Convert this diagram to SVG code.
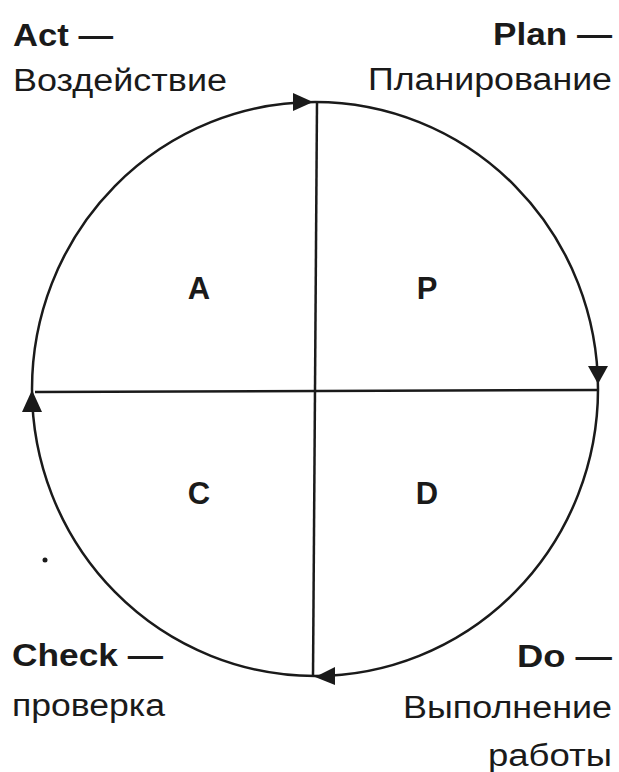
<svg xmlns="http://www.w3.org/2000/svg" width="619" height="772" viewBox="0 0 619 772">
<style>
.lbl{font-family:"Liberation Sans",Arial,sans-serif;font-size:31px;fill:#1a1a1a}
.b{font-weight:bold}
.q{font-family:"Liberation Sans",Arial,sans-serif;font-size:31px;font-weight:bold;fill:#1a1a1a;text-anchor:middle}
.ln{stroke:#1a1a1a;stroke-width:2.5;fill:none}
</style>
<rect width="619" height="772" fill="#fff"/>
<g id="connectors">
<ellipse class="ln" cx="315" cy="389" rx="283" ry="287"/>
<line class="ln" x1="35" y1="392" x2="598" y2="390"/>
<line class="ln" x1="317" y1="102" x2="313" y2="676"/>
<polygon points="293,93 313,102 293,111" fill="#1a1a1a"/>
<polygon points="588,366 608,366 598,384" fill="#1a1a1a"/>
<polygon points="22,412 42,412 32,390" fill="#1a1a1a"/>
<polygon points="335,667 335,685 315,677" fill="#1a1a1a"/>
<circle cx="45" cy="560" r="2.5" fill="#1a1a1a"/>
</g>
<g id="A"><text class="q" x="199" y="299">A</text></g>
<g id="P"><text class="q" x="427" y="299">P</text></g>
<g id="C"><text class="q" x="199" y="504">C</text></g>
<g id="D"><text class="q" x="427" y="504">D</text></g>
<g id="act">
<text class="lbl b" x="13" y="46" textLength="100" lengthAdjust="spacingAndGlyphs">Act —</text>
<text class="lbl" x="13" y="91" textLength="214" lengthAdjust="spacingAndGlyphs">Воздействие</text>
</g>
<g id="plan">
<text class="lbl b" x="493" y="45" textLength="119" lengthAdjust="spacingAndGlyphs">Plan —</text>
<text class="lbl" x="368" y="90" textLength="244" lengthAdjust="spacingAndGlyphs">Планирование</text>
</g>
<g id="check">
<text class="lbl b" x="12" y="666" textLength="151" lengthAdjust="spacingAndGlyphs">Check —</text>
<text class="lbl" x="12" y="716" textLength="153" lengthAdjust="spacingAndGlyphs">проверка</text>
</g>
<g id="do">
<text class="lbl b" x="517" y="667" textLength="95" lengthAdjust="spacingAndGlyphs">Do —</text>
<text class="lbl" x="403" y="718" textLength="209" lengthAdjust="spacingAndGlyphs">Выполнение</text>
<text class="lbl" x="488" y="766" textLength="124" lengthAdjust="spacingAndGlyphs">работы</text>
</g>
</svg>
